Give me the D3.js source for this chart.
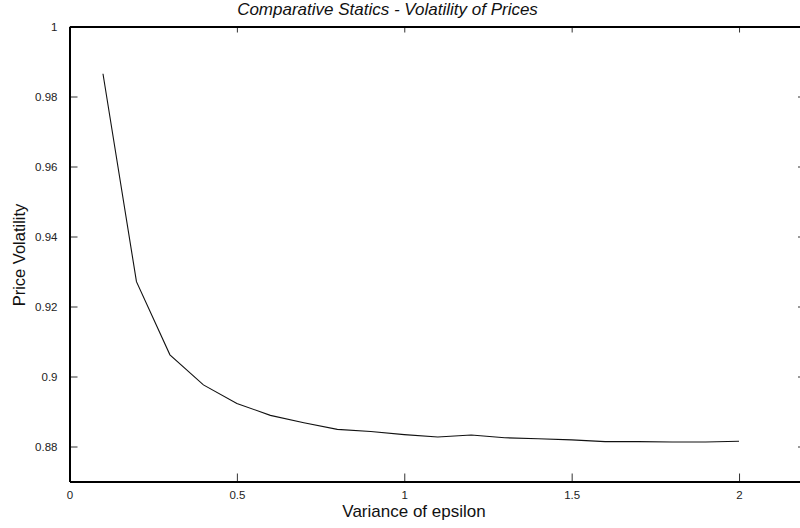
<!DOCTYPE html>
<html lang="en">
  <head>
    <meta charset="UTF-8" />
    <title>Comparative Statics - Volatility of Prices</title>
    <script src="https://d3js.org/d3.v7.min.js"></script>
    <style>
      body {
        margin: 0;
        background: #fff;
        font-family: "Liberation Sans", Arial, sans-serif;
      }
      svg {
        display: block;
      }
      .tick text {
        font-size: 11.5px;
        fill: #222;
      }
    </style>
  </head>
  <body>
    <svg width="800" height="528"></svg>

    <script>
      // variance of epsilon (x) and price volatility (y)
      const variance = [0.1, 0.2, 0.3, 0.4, 0.5, 0.6, 0.7, 0.8, 0.9, 1.0,
        1.1, 1.2, 1.3, 1.4, 1.5, 1.6, 1.7, 1.8, 1.9, 2.0];
      const volatility = [0.9865, 0.9271, 0.9062, 0.8976, 0.8923, 0.8889, 0.8868,
        0.8849, 0.8843, 0.8834, 0.8827, 0.8833, 0.8825, 0.8822, 0.8819, 0.8814,
        0.8814, 0.8813, 0.8813, 0.8815];
      const xTicks = [0, 0.5, 1, 1.5, 2];
      const yTicks = [0.88, 0.9, 0.92, 0.94, 0.96, 0.98, 1];

      const points = variance.map((v, i) => ({ x: v, y: volatility[i] }));

      const svg = d3.select("svg");
      const mLeft = 69.5, mRight = 806, mTop = 26.5, mBottom = 481.5;

      const x = d3.scaleLinear().domain([0, 2.2]).range([mLeft, mRight]);
      const y = d3.scaleLinear().domain([0.87, 1]).range([mBottom, mTop]);

      const fmt = d => String(d);

      // bottom axis, ticks pointing in
      const gx = svg.append("g")
        .attr("transform", `translate(0,${mBottom})`)
        .call(d3.axisBottom(x).tickValues(xTicks).tickFormat(fmt)
          .tickSizeInner(-8).tickSizeOuter(0).tickPadding(9));
      gx.select(".domain").remove();
      gx.selectAll("text").attr("font-family", null);

      // top ticks
      const gt = svg.append("g")
        .attr("transform", `translate(0,${mTop})`)
        .call(d3.axisTop(x).tickValues(xTicks.slice(1)).tickFormat("")
          .tickSizeInner(-6).tickSizeOuter(0));
      gt.select(".domain").remove();

      // left axis
      const gy = svg.append("g")
        .attr("transform", `translate(${mLeft},0)`)
        .call(d3.axisLeft(y).tickValues(yTicks).tickFormat(fmt)
          .tickSizeInner(-8).tickSizeOuter(0).tickPadding(12));
      gy.select(".domain").remove();
      gy.selectAll("text").attr("font-family", null);

      // right ticks
      const gr = svg.append("g")
        .attr("transform", `translate(${mRight},0)`)
        .call(d3.axisRight(y).tickValues(yTicks.slice(0, -1)).tickFormat("")
          .tickSizeInner(-8).tickSizeOuter(0));
      gr.select(".domain").remove();

      svg.selectAll(".tick line").attr("stroke", "#333");

      // frame (top, bottom, left; right side falls outside the window)
      svg.append("path")
        .attr("d", `M${mLeft},${mTop}H800M${mLeft},${mBottom}H800M${mLeft},${mTop}V${mBottom}`)
        .attr("fill", "none")
        .attr("stroke", "#000")
        .attr("stroke-width", 2)
        .attr("shape-rendering", "crispEdges");

      // curve
      const line = d3.line().x(d => x(d.x)).y(d => y(d.y));
      svg.append("path")
        .datum(points)
        .attr("d", line)
        .attr("fill", "none")
        .attr("stroke", "#111")
        .attr("stroke-width", 1.1);

      // title and axis labels
      svg.append("text")
        .attr("x", 387.5).attr("y", 15)
        .attr("text-anchor", "middle")
        .attr("font-size", 17)
        .attr("font-style", "italic")
        .attr("fill", "#111")
        .text("Comparative Statics - Volatility of Prices");

      svg.append("text")
        .attr("x", 414).attr("y", 516.5)
        .attr("text-anchor", "middle")
        .attr("font-size", 17)
        .attr("fill", "#111")
        .text("Variance of epsilon");

      svg.append("text")
        .attr("transform", "translate(25,255) rotate(-90)")
        .attr("text-anchor", "middle")
        .attr("font-size", 16.5)
        .attr("fill", "#111")
        .text("Price Volatility");
    </script>
  </body>
</html>
